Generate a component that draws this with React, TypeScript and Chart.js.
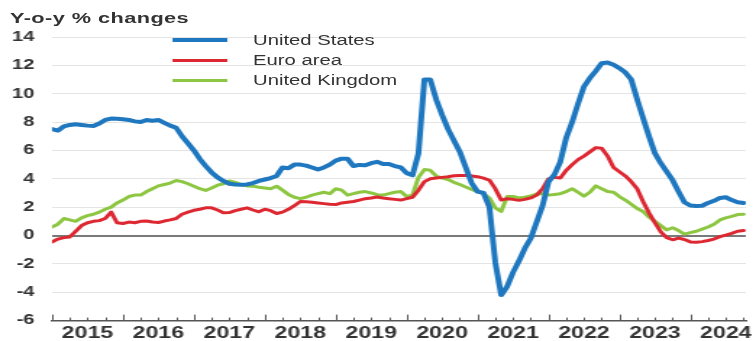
import React, { useEffect, useRef } from 'react';
import { Chart, registerables } from 'chart.js';

Chart.register(...registerables);

// Reference image is horizontally stretched; we render at a narrower width and stretch with CSS.
const W = 522;
const H = 341;
const SX = 756 / W;

const yearLabels = ['2015', '2016', '2017', '2018', '2019', '2020', '2021', '2022', '2023', '2024'];

// Monthly values, Jan 2015 .. Oct 2024
const usValues = [
  7.5, 7.4, 7.7, 7.8, 7.85, 7.8, 7.75, 7.73, 7.9, 8.15,
  8.25, 8.24, 8.2, 8.15, 8.05, 8.0, 8.15, 8.1, 8.15, 7.95,
  7.75, 7.6, 7.0, 6.5, 6.0, 5.4, 4.9, 4.45, 4.1, 3.85,
  3.65, 3.6, 3.58, 3.6, 3.7, 3.85, 3.95, 4.05, 4.2, 4.8,
  4.75, 5.0, 5.0, 4.93, 4.8, 4.65, 4.8, 5.0, 5.28, 5.42,
  5.42, 4.9, 4.98, 4.95, 5.1, 5.2, 5.05, 5.05, 4.9, 4.8,
  4.4, 4.25, 5.8, 11.0, 11.0, 9.6, 8.5, 7.5, 6.7, 5.9,
  4.8, 3.7, 3.1, 3.0, 2.0, -1.9, -4.2, -3.6, -2.6, -1.8,
  -0.9, -0.2, 0.95, 2.1, 3.8, 4.3, 5.2, 6.9, 8.0, 9.3,
  10.5, 11.1, 11.6, 12.15, 12.2, 12.05, 11.8, 11.5, 11.0, 9.6,
  8.3, 7.0, 5.8, 5.1, 4.5, 3.9, 3.1, 2.35, 2.12, 2.08,
  2.1, 2.3, 2.45, 2.65, 2.7, 2.5, 2.35, 2.3,
];

const euroValues = [
  -0.45, -0.25, -0.15, -0.1, 0.3, 0.7, 0.9, 1.0, 1.05, 1.2,
  1.65, 0.9, 0.85, 0.95, 0.9, 1.0, 1.02, 0.95, 0.92, 1.02,
  1.1, 1.2, 1.5, 1.65, 1.78, 1.85, 1.95, 1.95, 1.8, 1.6,
  1.62, 1.75, 1.85, 1.95, 1.8, 1.67, 1.86, 1.75, 1.55, 1.65,
  1.85, 2.1, 2.4, 2.38, 2.35, 2.3, 2.25, 2.2, 2.18, 2.3,
  2.35, 2.4, 2.5, 2.6, 2.65, 2.72, 2.65, 2.6, 2.55, 2.5,
  2.6, 2.7, 3.2, 3.8, 4.0, 4.05, 4.1, 4.15, 4.22, 4.23,
  4.23, 4.2, 4.15, 4.05, 3.9, 3.3, 2.5, 2.6, 2.55, 2.48,
  2.55, 2.65, 2.85, 3.3, 4.0, 4.1, 4.05, 4.6, 5.0, 5.35,
  5.6, 5.9, 6.2, 6.15, 5.6, 4.8, 4.5, 4.2, 3.8, 3.3,
  2.4, 1.6, 0.9, 0.25, -0.15, -0.3, -0.18, -0.28, -0.45, -0.48,
  -0.43, -0.35, -0.25, -0.08, 0.03, 0.15, 0.3, 0.35,
];

const ukValues = [
  0.6, 0.8, 1.2, 1.1, 1.0, 1.25, 1.4, 1.5, 1.65, 1.85,
  2.0, 2.3, 2.5, 2.75, 2.85, 2.85, 3.1, 3.3, 3.5, 3.6,
  3.7, 3.88, 3.8, 3.65, 3.48, 3.3, 3.18, 3.35, 3.55, 3.65,
  3.85, 3.75, 3.58, 3.5, 3.48, 3.4, 3.35, 3.3, 3.48, 3.2,
  2.9, 2.7, 2.6, 2.7, 2.85, 2.95, 3.05, 2.95, 3.3, 3.2,
  2.85, 2.95, 3.05, 3.1, 3.0, 2.88, 2.85, 2.95, 3.05, 3.1,
  2.75, 2.85, 4.1, 4.65, 4.6, 4.2, 4.05, 3.95, 3.75, 3.6,
  3.42, 3.25, 3.1, 2.95, 2.65, 1.95, 1.7, 2.75, 2.75, 2.65,
  2.7, 2.8, 2.92, 2.95, 2.85, 2.9, 2.95, 3.1, 3.3, 3.05,
  2.78, 3.05, 3.5, 3.3, 3.1, 3.05, 2.75, 2.5, 2.2, 1.9,
  1.7, 1.3, 1.0, 0.7, 0.4, 0.55, 0.35, 0.1, 0.2, 0.3,
  0.45, 0.6, 0.8, 1.1, 1.25, 1.35, 1.48, 1.5,
];

const seriesNames = ['United States', 'Euro area', 'United Kingdom'];
const seriesColors = ['#1f78bf', '#dd2832', '#8dc641'];
const seriesWidths = [4, 3, 3];
const seriesValues = [usValues, euroValues, ukValues];

const FONT = "'Liberation Sans', Arial, Helvetica, sans-serif";

export default function App() {
  const canvasRef = useRef<HTMLCanvasElement | null>(null);

  useEffect(() => {
    if (!canvasRef.current) return;

    const quarterTicks = {
      id: 'quarterTicks',
      afterDraw(chart: any) {
        const xs = chart.scales.x;
        const { ctx, chartArea } = chart;
        ctx.save();
        ctx.strokeStyle = '#555555';
        ctx.lineWidth = 1;
        for (let v = 0; v <= 117; v += 3) {
          const px = Math.round(xs.getPixelForValue(v)) + 0.5;
          const len = v % 12 === 0 ? 6 : 3;
          ctx.beginPath();
          ctx.moveTo(px, chartArea.bottom);
          ctx.lineTo(px, chartArea.bottom - len);
          ctx.stroke();
        }
        ctx.restore();
      },
    };

    const chart = new Chart(canvasRef.current, {
      type: 'line',
      data: {
        datasets: seriesNames.map((name, k) => ({
          label: name,
          data: seriesValues[k].map((v, i) => ({ x: i, y: v })),
          borderColor: seriesColors[k],
          backgroundColor: seriesColors[k],
          borderWidth: seriesWidths[k],
          pointRadius: 0,
          tension: 0,
          fill: false,
          borderJoinStyle: 'round' as const,
          borderCapStyle: 'round' as const,
        })),
      },
      options: {
        animation: false,
        responsive: true,
        maintainAspectRatio: false,
        layout: { padding: { top: 37, right: 2, left: 0, bottom: 0 } },
        plugins: {
          legend: { display: false },
          tooltip: { enabled: false },
          title: { display: false },
        },
        scales: {
          x: {
            type: 'linear',
            min: 0,
            max: 117.4,
            afterBuildTicks: (scale: any) => {
              scale.ticks = yearLabels.map((_, i) => ({ value: 6 + 12 * i }));
            },
            afterFit: (scale: any) => {
              scale.height = 18;
            },
            ticks: {
              autoSkip: false,
              maxRotation: 0,
              padding: 3,
              color: '#333333',
              font: { family: FONT, size: 16, weight: 'bold' },
              callback: (value: any) => yearLabels[Math.round((Number(value) - 6) / 12)] ?? '',
            },
            grid: { display: true, drawOnChartArea: false, drawTicks: false },
            border: { display: true, color: '#555555', width: 1.5 },
          },
          y: {
            min: -6,
            max: 14,
            afterFit: (scale: any) => {
              scale.width = 52 / SX;
            },
            ticks: {
              stepSize: 2,
              padding: 12,
              color: '#333333',
              font: { family: FONT, size: 14, weight: 'bold' },
            },
            grid: {
              drawTicks: false,
              color: (ctx: any) => (ctx.tick && ctx.tick.value === 0 ? '#7a7a7a' : '#e4e4e4'),
              lineWidth: (ctx: any) => (ctx.tick && ctx.tick.value === 0 ? 2 : 1),
            },
            border: { display: false },
          },
        },
      },
      plugins: [quarterTicks],
    });

    return () => chart.destroy();
  }, []);

  const legendCenters = [40, 60, 80];

  return (
    <div
      style={{
        position: 'absolute',
        left: 0,
        top: 0,
        width: 756,
        height: H,
        overflow: 'hidden',
        background: '#ffffff',
      }}
    >
      <div
        style={{
          position: 'absolute',
          left: 0,
          top: 0,
          width: W,
          height: H,
          transform: `scaleX(${SX})`,
          transformOrigin: '0 0',
        }}
      >
        <div style={{ position: 'absolute', left: 0, top: 0, width: W, height: H }}>
          <canvas ref={canvasRef} />
        </div>
        <div
          style={{
            position: 'absolute',
            left: 10 / SX,
            top: 10,
            font: `bold 15px ${FONT}`,
            lineHeight: '15px',
            letterSpacing: '0.3px',
            color: '#333333',
            whiteSpace: 'nowrap',
          }}
        >
          Y-o-y % changes
        </div>
        {seriesNames.map((name, k) => (
          <React.Fragment key={name}>
            <div
              style={{
                position: 'absolute',
                left: 172 / SX,
                top: legendCenters[k] - seriesWidths[k] / 2,
                width: (228 - 172) / SX,
                height: seriesWidths[k],
                background: seriesColors[k],
              }}
            />
            <div
              style={{
                position: 'absolute',
                left: 253 / SX,
                top: legendCenters[k] - 7,
                font: `14px ${FONT}`,
                lineHeight: '14px',
                color: '#333333',
                whiteSpace: 'nowrap',
              }}
            >
              {name}
            </div>
          </React.Fragment>
        ))}
      </div>
    </div>
  );
}
